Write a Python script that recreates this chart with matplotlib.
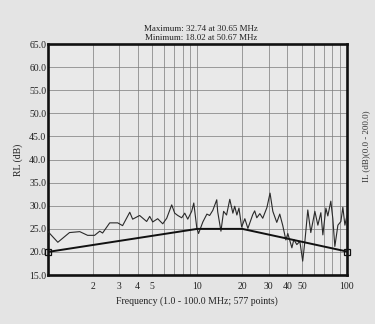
import numpy as np
import matplotlib.pyplot as plt
from matplotlib.ticker import FixedLocator, FixedFormatter, NullFormatter

plt.rcParams['font.family'] = ['Liberation Serif', 'DejaVu Serif']

# measured return loss, 1 - 100 MHz
freq_mhz = [1.00, 1.17, 1.40, 1.64, 1.85, 2.06, 2.23, 2.33, 2.60, 2.94,
            3.17, 3.54, 3.70, 4.12, 4.59, 4.81, 5.04, 5.44, 5.88, 6.25,
            6.75, 7.07, 7.41, 7.87, 8.25, 8.64, 9.18, 9.48, 9.93, 10.2,
            10.9, 11.6, 12.1, 12.7, 13.5, 13.7, 14.4, 15.0, 15.7, 16.5,
            17.3, 17.8, 18.4, 19.0, 19.8, 20.8, 21.8, 23.5, 24.2, 25.0,
            26.2, 27.4, 29.2, 30.65, 32.0, 34.0, 35.6, 37.3, 39.1, 40.3,
            42.9, 44.2, 46.3, 48.5, 50.67, 52.4, 54.8, 57.4, 61.1, 64.0,
            67.0, 69.1, 72.4, 74.6, 78.1, 80.5, 83.1, 87.1, 91.2, 94.0,
            97.0, 100.0]
rl_db = [24.5, 22.1, 24.2, 24.4, 23.6, 23.6, 24.5, 24.1, 26.3, 26.3,
         25.7, 28.6, 27.1, 27.9, 26.6, 27.7, 26.5, 27.2, 26.1, 27.3,
         30.2, 28.4, 27.9, 27.4, 28.4, 27.1, 28.8, 30.6, 25.2, 24.0,
         26.5, 28.2, 27.9, 29.0, 31.3, 28.7, 24.5, 28.8, 28.0, 31.4,
         28.4, 29.9, 28.0, 29.5, 25.4, 27.2, 25.1, 28.1, 28.9, 27.4,
         28.3, 27.3, 29.6, 32.74, 28.8, 26.4, 28.2, 25.7, 22.6, 24.0,
         20.9, 22.7, 21.6, 22.3, 18.02, 22.3, 29.1, 24.2, 28.8, 25.8,
         28.5, 23.7, 29.5, 27.8, 31.0, 27.3, 21.2, 25.8, 26.6, 29.7,
         25.8, 27.8]

# limit line
limit_freq = [1.0, 10.0, 20.0, 100.0]
limit_db = [20.0, 25.0, 25.0, 20.1]

x_ticks = [2, 3, 4, 5, 10, 20, 30, 40, 50, 100]
grid_x = [2, 3, 4, 5, 6, 7, 8, 9, 10, 20, 30, 40, 50, 60, 70, 80, 90]

paper = '#e4e4e4'
fig = plt.figure(figsize=(3.75, 3.24), dpi=100, facecolor=paper)
ax = fig.add_axes([0.127, 0.151, 0.798, 0.713], facecolor='#e9e9e9')

ax.set_xscale('log')
ax.set_xlim(1, 100)
ax.set_ylim(15, 65)

for gx in grid_x:
    ax.axvline(gx, color='#7a7a7a', lw=0.5, zorder=1)
for gy in np.arange(20, 65, 5):
    ax.axhline(gy, color='#7a7a7a', lw=0.5, zorder=1)

ax.plot(freq_mhz, rl_db, color='#2a2a2a', lw=0.8, zorder=3)
ax.plot(limit_freq, limit_db, color='#111111', lw=1.4, zorder=3)
ax.plot([limit_freq[0], limit_freq[-1]], [limit_db[0], limit_db[-1]],
        ls='none', marker='s', ms=5, mfc='none', mec='#111111', mew=0.9,
        zorder=4, clip_on=False)

ax.xaxis.set_major_locator(FixedLocator(x_ticks))
ax.xaxis.set_major_formatter(FixedFormatter([str(t) for t in x_ticks]))
ax.xaxis.set_minor_formatter(NullFormatter())
ax.set_yticks(np.arange(15, 66, 5))
ax.set_yticklabels([f'{v:.1f}' for v in np.arange(15, 66, 5)])
ax.tick_params(axis='both', which='both', length=0, labelsize=7, colors='#222222')
ax.tick_params(axis='x', pad=5)
ax.tick_params(axis='y', pad=1)

for s in ax.spines.values():
    s.set_linewidth(1.9)
    s.set_color('#111111')

ax.set_xlabel('Frequency (1.0 - 100.0 MHz; 577 points)', fontsize=7, labelpad=4, color='#222222')
ax.set_ylabel('RL (dB)', fontsize=7, labelpad=4, color='#222222')

fig.text(0.537, 0.910, 'Maximum: 32.74 at 30.65 MHz', ha='center', va='center', fontsize=6.5, color='#222222')
fig.text(0.537, 0.882, 'Minimum: 18.02 at 50.67 MHz', ha='center', va='center', fontsize=6.5, color='#222222')
fig.text(0.965, 0.55, 'IL (dB)(0.0 - 200.0)', rotation=90, ha='left', va='center', fontsize=6.5, color='#333333')

fig.savefig('out.png', dpi=100, facecolor=paper)
